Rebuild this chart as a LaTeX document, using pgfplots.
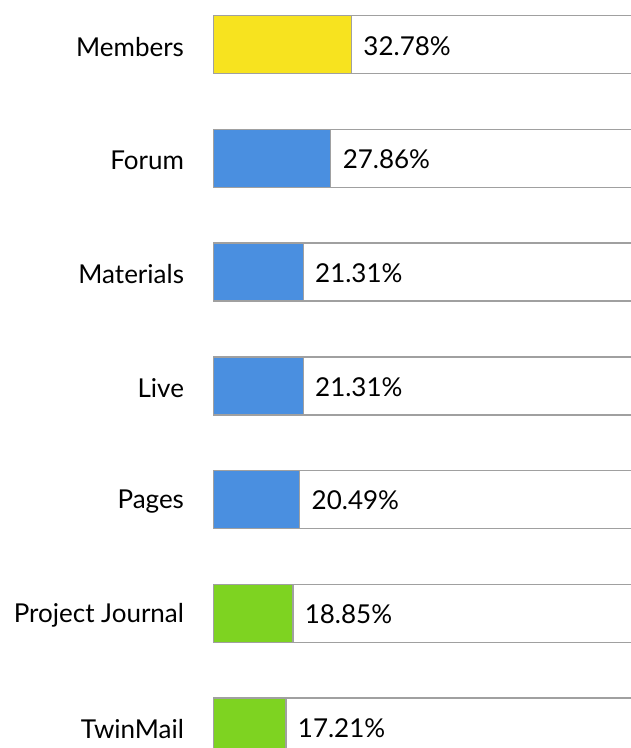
\documentclass[border=0pt]{standalone}
\usepackage{pgfplots}
\pgfplotsset{compat=1.18}
\usepackage{fontspec}
\setmainfont{Lato}
\definecolor{cyel}{HTML}{F7E31F}
\definecolor{cblue}{HTML}{4A8FE0}
\definecolor{cgreen}{HTML}{7ED321}
\definecolor{cgray}{HTML}{A0A0A0}
\begin{document}
\begin{tikzpicture}
\path[use as bounding box] (0pt,0pt) rectangle (631pt,748pt);
\clip (0pt,0pt) rectangle (631pt,748pt);
\begin{axis}[
  at={(213.5pt,-35.85pt)}, anchor=south west,
  scale only axis, width=421pt, height=796pt,
  xmin=0, xmax=100, ymin=-0.5, ymax=6.5,
  axis line style={draw=none}, xtick=\empty,
  ytick={0,...,6},
  yticklabels={TwinMail,Project Journal,Pages,Live,Materials,Forum,Members},
  yticklabel style={font=\fontsize{26}{30}\selectfont, anchor=east, xshift=-26pt, yshift=-2pt},
  major tick length=0pt,
  xbar, bar width=58pt,
  clip=false,
  every node near coord/.style={font=\fontsize{26}{30}\selectfont, anchor=west, xshift=8pt, yshift=-1pt, text=black},
]
\addplot[bar shift=0pt, fill=white, draw=cgray, line width=1.3pt] coordinates {(100,0) (100,1) (100,2) (100,3) (100,4) (100,5) (100,6)};
\addplot[bar shift=0pt, fill=cyel, draw=cgray, line width=1.3pt, nodes near coords, point meta=explicit symbolic] coordinates {(32.78,6) [32.78\%]};
\addplot[bar shift=0pt, fill=cblue, draw=cgray, line width=1.3pt, nodes near coords, point meta=explicit symbolic] coordinates {(27.86,5) [27.86\%] (21.31,4) [21.31\%] (21.31,3) [21.31\%] (20.49,2) [20.49\%]};
\addplot[bar shift=0pt, fill=cgreen, draw=cgray, line width=1.3pt, nodes near coords, point meta=explicit symbolic] coordinates {(18.85,1) [18.85\%] (17.21,0) [17.21\%]};
\end{axis}
\end{tikzpicture}
\end{document}
